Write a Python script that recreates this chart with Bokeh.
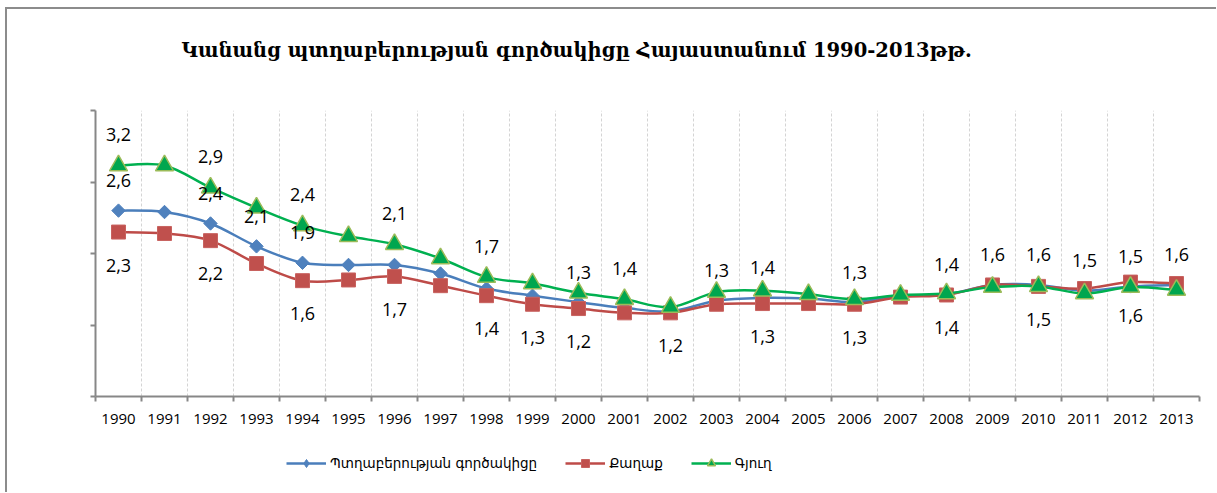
import numpy as np
from bokeh.plotting import figure
from bokeh.layouts import column
from bokeh.models import ColumnDataSource, FixedTicker, Legend, LegendItem, Range1d
from bokeh.core.properties import value
from bokeh.embed import file_html
from bokeh.resources import INLINE

# ---------------- data ----------------
years = list(range(1990, 2014))
total = [2.60, 2.58, 2.42, 2.10, 1.87, 1.84, 1.84, 1.72, 1.51, 1.41, 1.32, 1.24,
         1.19, 1.34, 1.38, 1.37, 1.32, 1.41, 1.43, 1.56, 1.56, 1.48, 1.54, 1.56]
urban = [2.30, 2.28, 2.18, 1.86, 1.62, 1.63, 1.68, 1.55, 1.41, 1.29, 1.23, 1.17,
         1.17, 1.29, 1.30, 1.30, 1.29, 1.39, 1.42, 1.56, 1.54, 1.51, 1.60, 1.58]
rural = [3.23, 3.23, 2.92, 2.64, 2.39, 2.24, 2.13, 1.93, 1.67, 1.58, 1.45, 1.36,
         1.25, 1.46, 1.48, 1.43, 1.36, 1.42, 1.44, 1.53, 1.54, 1.44, 1.53, 1.49]

# years that carry a data label in the original chart
total_label_years = [1990, 1992, 1993, 1994, 2000, 2003, 2004, 2006, 2008, 2009, 2010, 2011, 2012, 2013]
urban_label_years = [1990, 1992, 1994, 1996, 1998, 1999, 2000, 2002, 2004, 2006, 2008, 2010, 2012]
rural_label_years = [1990, 1992, 1994, 1996, 1998, 2001]

title_text = "Կանանց  պտղաբերության գործակիցը  Հայաստանում 1990-2013թթ."
name_total = "Պտղաբերության գործակիցը"
name_urban = "Քաղաք"
name_rural = "Գյուղ"

# ---------------- helpers ----------------
xc = [i + 0.5 for i in range(len(years))]


def smooth_source(xs, ys, t=1.0 / 6.0):
    n = len(xs)
    d = dict(x0=[], y0=[], x1=[], y1=[], cx0=[], cy0=[], cx1=[], cy1=[])
    for i in range(n - 1):
        xp, yp = (xs[i - 1], ys[i - 1]) if i > 0 else (xs[i], ys[i])
        xn, yn = (xs[i + 2], ys[i + 2]) if i + 2 < n else (xs[i + 1], ys[i + 1])
        d["x0"].append(xs[i]); d["y0"].append(ys[i])
        d["x1"].append(xs[i + 1]); d["y1"].append(ys[i + 1])
        d["cx0"].append(xs[i] + (xs[i + 1] - xp) * t)
        d["cy0"].append(ys[i] + (ys[i + 1] - yp) * t)
        d["cx1"].append(xs[i + 1] - (xn - xs[i]) * t)
        d["cy1"].append(ys[i + 1] - (yn - ys[i]) * t)
    return ColumnDataSource(d)


def label_source(vals, label_years):
    xs, ys, txt = [], [], []
    for x, yr, v in zip(xc, years, vals):
        if yr in label_years:
            xs.append(x); ys.append(v)
            txt.append(f"{v:.1f}".replace(".", ","))
    return ColumnDataSource(dict(x=xs, y=ys, t=txt))


W = 1209
HT, H1, H2 = 84, 345, 54

# ---------------- title strip ----------------
t = figure(width=W, height=HT, output_backend="svg", toolbar_location=None,
           x_range=Range1d(0, 1), y_range=Range1d(0, 1),
           x_axis_location=None, y_axis_location=None, min_border=0)
t.outline_line_color = None
t.grid.visible = False
t.title.text = title_text
t.title.align = "left"
t.title.offset = 86
t.title.standoff = 54
t.title.vertical_align = "bottom"
t.title.text_font = "DejaVu Serif"
t.title.text_font_style = "bold"
t.title.text_font_size = "19.5px"
t.title.text_color = "black"

# ---------------- main figure ----------------
p = figure(width=W, height=H1, x_range=Range1d(0, 24), y_range=Range1d(0, 4),
           output_backend="svg", toolbar_location=None,
           min_border_left=88, min_border_right=17, min_border_top=17, min_border_bottom=42)
p.outline_line_color = None
p.background_fill_color = "white"
p.border_fill_color = "white"

axis_col = "#878787"
xt = FixedTicker(ticks=xc, minor_ticks=list(range(25)))
p.xaxis.ticker = xt
p.xgrid.ticker = xt
p.xaxis.major_label_overrides = {x: str(y) for x, y in zip(xc, years)}
p.xaxis.major_tick_out = 0
p.xaxis.major_tick_in = 0
p.xaxis.minor_tick_out = 5
p.xaxis.minor_tick_in = 0
p.xaxis.minor_tick_line_color = axis_col
p.xaxis.minor_tick_line_width = 2
p.xaxis.axis_line_color = axis_col
p.xaxis.axis_line_width = 2
p.xaxis.major_label_standoff = 12
p.xaxis.major_label_text_font = "Open Sans"
p.xaxis.major_label_text_font_size = "15px"
p.xaxis.major_label_text_color = "black"
p.xgrid.grid_line_color = None
p.xgrid.minor_grid_line_color = "#d4d4d4"
p.xgrid.minor_grid_line_dash = "3 2"
p.xgrid.minor_grid_line_width = 1

p.yaxis.ticker = FixedTicker(ticks=[0, 1, 2, 3, 4])
p.yaxis.major_tick_out = 5
p.yaxis.major_tick_in = 0
p.yaxis.minor_tick_out = 0
p.yaxis.major_tick_line_color = axis_col
p.yaxis.major_tick_line_width = 2
p.yaxis.axis_line_color = axis_col
p.yaxis.axis_line_width = 2
p.yaxis.major_label_text_color = None
p.yaxis.major_label_text_font_size = "0px"
p.ygrid.grid_line_color = None

# ---------------- series ----------------
blue, red, green = "#4A7EBB", "#BE4B48", "#00B050"

series = [
    (name_total, total, blue,
     dict(marker="square", angle=np.pi / 4, size=9.5, fill_color="#4F81BD", line_color="#4F81BD", line_width=1),
     dict(marker="diamond", size=13, fill_color="#4F81BD", line_color="#4F81BD", line_width=1)),
    (name_urban, urban, red,
     dict(marker="square", size=14, fill_color="#C0504D", line_color="#C8625F", line_width=1),
     dict(marker="square", size=14, fill_color="#C0504D", line_color="#C8625F", line_width=1)),
    (name_rural, rural, green,
     dict(marker="triangle", size=18, fill_color="#00A64F", line_color="#9BBB59", line_width=1.5),
     dict(marker="triangle", size=18, fill_color="#00A64F", line_color="#9BBB59", line_width=1.5)),
]
for name, vals, col, mk, _ in series:
    p.bezier(x0="x0", y0="y0", x1="x1", y1="y1", cx0="cx0", cy0="cy0",
             cx1="cx1", cy1="cy1", source=smooth_source(xc, vals),
             line_color=col, line_width=2.5)
    p.scatter(x=xc, y=vals, **mk)

# data labels
lab_kw = dict(x="x", y="y", text="t", text_font=value("Open Sans"), text_font_size="18px",
              text_color="black", text_align="center", text_baseline="middle")
p.text(source=label_source(rural, rural_label_years), y_offset=-31, **lab_kw)
p.text(source=label_source(total, total_label_years), y_offset=-30, **lab_kw)
p.text(source=label_source(urban, urban_label_years), y_offset=33, **lab_kw)

# ---------------- legend strip ----------------
# the series are drawn here too, but outside this strip's visible ranges;
# they only serve as legend sources
q = figure(width=W, height=H2, output_backend="svg", toolbar_location=None,
           x_range=Range1d(-3, -2), y_range=Range1d(-3, -2),
           x_axis_location=None, y_axis_location=None, min_border=0)
q.outline_line_color = None
q.grid.visible = False
items = []
for name, vals, col, _, lmk in series:
    ln = q.line(x=xc, y=vals, line_color=col, line_width=2.5)
    sc = q.scatter(x=xc, y=vals, **lmk)
    items.append(LegendItem(label=name, renderers=[ln, sc]))
legend = Legend(items=items, orientation="horizontal", location=(191, 19),
                padding=0, margin=0, spacing=28, label_standoff=4,
                glyph_width=40, glyph_height=20, label_height=20,
                border_line_color=None, background_fill_alpha=0,
                label_text_font="DejaVu Sans", label_text_font_size="13.5px",
                label_text_color="black")
q.add_layout(legend)

layout = column(t, p, q, spacing=0)
layout.styles = {"margin-left": "5px", "margin-top": "7px",
                 "border-top": "2px solid #8c8c8c", "border-left": "2px solid #8c8c8c"}

open("out.html", "w").write(file_html(layout, INLINE))
